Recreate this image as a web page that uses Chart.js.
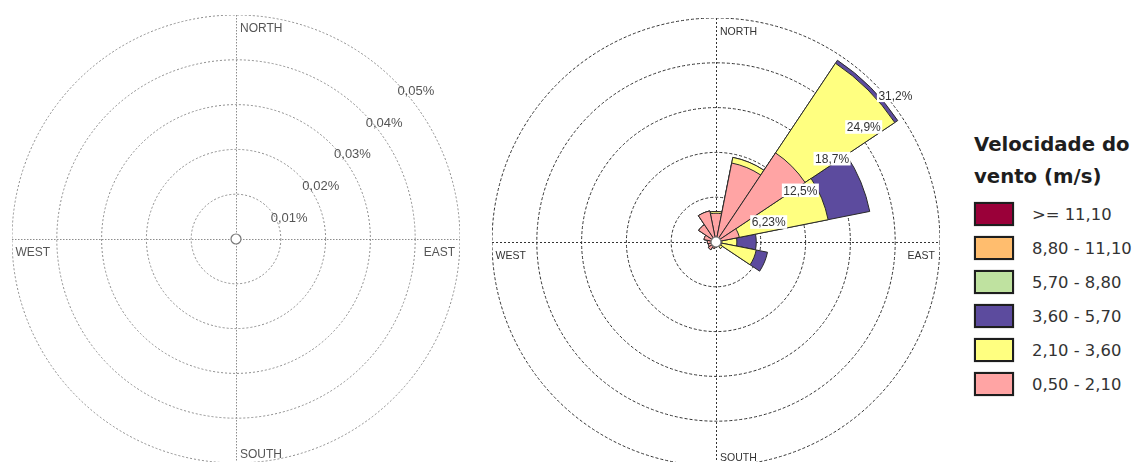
<!DOCTYPE html>
<html><head><meta charset="utf-8">
<script src="https://cdn.jsdelivr.net/npm/chart.js@4.4.1/dist/chart.umd.min.js"></script>
<style>
html,body{margin:0;padding:0;background:#fff}
body{width:1137px;height:462px;overflow:hidden;position:relative;font-family:'DejaVu Sans',sans-serif}
canvas{position:absolute}
#c-left{left:12px;top:15px}
#c-right{left:492px;top:18px}
#lg{position:absolute;left:974px;top:129px;color:#1e1e1e}
#lg .t{font-weight:bold;font-size:19.7px;line-height:32px;white-space:nowrap}
#lg .items{margin-top:4px}
#lg .it{display:flex;align-items:center;height:34px}
#lg .bx{width:36px;height:20px;border:2px solid #1e1e1e;box-shadow:0 0 1px #777}
#lg .lb{margin-left:18px;font-size:16.4px;color:#333;white-space:nowrap}
</style></head>
<body>
<canvas id="c-left" width="448" height="448"></canvas>
<canvas id="c-right" width="448" height="448"></canvas>
<div id="lg"></div>
<script>
/* ===== ROSA DOS VENTOS ===== */
const DIRS=['N','NNE','NE','ENE','E','ESE','SE','SSE','S','SSW','SW','WSW','W','WNW','NW','NNW'];
const CARDINAL=['NORTH','EAST','SOUTH','WEST'];

// left rose: no records
const LEFT_VALUES=[0,0,0,0,0,0,0,0,0,0,0,0,0,0,0,0];
const LEFT_TICKS=[0.01,0.02,0.03,0.04,0.05];
const LEFT_TICK_LABELS=['0,01%','0,02%','0,03%','0,04%','0,05%'];

// right rose: frequency (%) per direction, one array per speed class
const V050_210=[4.0,11.2,14.9,3.3,0.8,0.8,0.6,0.6,0.5,0.9,1.3,1.1,1.2,1.7,2.9,4.4];
const V210_360=[0.25,0.8,15.0,12.6,2.1,4.9,0.5,0,0,0,0,0,0,0,0,0];
const V360_570=[0,0,0.5,5.9,2.7,1.6,0,0,0,0,0,0,0,0,0,0];
const V570_880=[0,0,0,0,0,0,0,0,0,0,0,0,0,0,0,0];
const V880_1110=[0,0,0,0,0,0,0,0,0,0,0,0,0,0,0,0];
const V1110=[0,0,0,0,0,0,0,0,0,0,0,0,0,0,0,0];
const RIGHT_TICKS=[6.23,12.46,18.69,24.92,31.15];
const RIGHT_TICK_LABELS=['6,23%','12,5%','18,7%','24,9%','31,2%'];

const CLASS_LABELS=['0,50 - 2,10','2,10 - 3,60','3,60 - 5,70','5,70 - 8,80','8,80 - 11,10','>= 11,10'];
const CLASS_COLORS=['#ffa4a4','#ffff80','#5c4b9e','#bfe2a0','#ffbd6e','#9a0039'];
const LEGEND_TITLE=['Velocidade do','vento (m/s)'];

// grid cross, ring labels at 45°, cardinal names, centre hole
const roseDeco={id:'roseDeco',
  beforeDatasetsDraw(ch,a,o){
    const s=ch.scales.r,ctx=ch.ctx,R=s.drawingArea,x=s.xCenter,y=s.yCenter;
    ctx.save();
    ctx.strokeStyle=o.gridColor;ctx.lineWidth=1;ctx.setLineDash(o.crossDash);
    ctx.beginPath();
    ctx.moveTo(x-R,y+.5);ctx.lineTo(x+R,y+.5);
    ctx.moveTo(x+.5,y-R);ctx.lineTo(x+.5,y+R);
    ctx.stroke();
    ctx.restore();
  },
  afterDatasetsDraw(ch,a,o){
    const s=ch.scales.r,ctx=ch.ctx,R=s.drawingArea,x=s.xCenter,y=s.yCenter;
    ctx.save();
    ctx.setLineDash([]);
    // ring labels
    ctx.font=o.ringFont;ctx.textBaseline='alphabetic';ctx.textAlign='left';
    o.ticks.forEach((v,i)=>{
      const d=s.getDistanceFromCenterForValue(v);
      const px=x+d*Math.SQRT1_2+o.dx,py=y-d*Math.SQRT1_2+o.dy;
      const txt=o.labels[i],w=ctx.measureText(txt).width;
      if(o.backdrop){ctx.fillStyle='#fff';ctx.fillRect(px-1.5,py-o.capH-2.5,w+3,o.capH+5);}
      ctx.fillStyle=o.textColor;
      ctx.fillText(txt,px,py);
    });
    // centre hole
    ctx.beginPath();ctx.arc(x,y,5,0,Math.PI*2);
    ctx.fillStyle='#fff';ctx.fill();
    ctx.strokeStyle='#777';ctx.lineWidth=1.2;ctx.stroke();
    // cardinal names
    ctx.font=o.cardFont;ctx.fillStyle=o.textColor;
    ctx.textAlign='left';ctx.fillText(CARDINAL[0],x+4,y-R+o.northY);
    ctx.textAlign='right';ctx.fillText(CARDINAL[1],x+R-5,y+16.5);
    ctx.textAlign='left';ctx.fillText(CARDINAL[2],x+4,y+R-5.5);
    ctx.fillText(CARDINAL[3],x-R+3.5,y+16.5);
    ctx.restore();
  }
};

function roseChart(id,datasets,max,ticks,deco){
  return new Chart(document.getElementById(id),{
    type:'polarArea',
    data:{labels:DIRS,datasets},
    options:{responsive:false,animation:false,events:[],
      plugins:{legend:{display:false},tooltip:{enabled:false},roseDeco:deco},
      scales:{r:{min:0,max,startAngle:-11.25,
        afterBuildTicks:sc=>{sc.ticks=[0,...ticks].map(v=>({value:v}));},
        ticks:{display:false},
        grid:{color:deco.gridColor,lineWidth:1,circular:true},
        border:{dash:deco.ringDash},
        angleLines:{display:false},
        pointLabels:{display:false}}}},
    plugins:[roseDeco]
  });
}

// left (empty)
roseChart('c-left',
  [{data:LEFT_VALUES,backgroundColor:'rgba(0,0,0,0)',borderWidth:0}],
  0.05,LEFT_TICKS,
  {gridColor:'#8c8c8c',ringDash:[2,2],crossDash:[1.5,1.5],textColor:'#555',
   ringFont:'13px "Liberation Sans", Arial, sans-serif',cardFont:'12px "Liberation Sans", Arial, sans-serif',
   ticks:LEFT_TICKS,labels:LEFT_TICK_LABELS,dx:3,dy:14.5,capH:9,backdrop:false,northY:16.5});

// right: stacked by speed class (cumulative arcs, inner class drawn on top)
const classVals=[V050_210,V210_360,V360_570,V570_880,V880_1110,V1110];
let acc=DIRS.map(()=>0);
const rightSets=[];
classVals.forEach((vals,k)=>{
  if(!vals.some(v=>v>0))return;
  acc=acc.map((s,i)=>s+vals[i]);
  rightSets.push({label:CLASS_LABELS[k],data:acc.slice(),backgroundColor:CLASS_COLORS[k],
    borderColor:'#2a2a2a',borderWidth:1});
});
roseChart('c-right',rightSets,31.15,RIGHT_TICKS,
  {gridColor:'#333',ringDash:[3,2],crossDash:[2,2],textColor:'#333',
   ringFont:'12px "Liberation Sans", Arial, sans-serif',cardFont:'10.5px "Liberation Sans", Arial, sans-serif',
   ticks:RIGHT_TICKS,labels:RIGHT_TICK_LABELS,dx:4,dy:16,capH:8.6,backdrop:true,northY:17});

// legend
const lg=document.getElementById('lg');
lg.innerHTML=LEGEND_TITLE.map(t=>`<div class="t">${t}</div>`).join('')+
  '<div class="items">'+CLASS_LABELS.map((l,i)=>
    `<div class="it"><div class="bx" style="background:${CLASS_COLORS[i]}"></div><div class="lb">${l.replace('>','&gt;')}</div></div>`
  ).reverse().join('')+'</div>';
</script>
</body></html>
